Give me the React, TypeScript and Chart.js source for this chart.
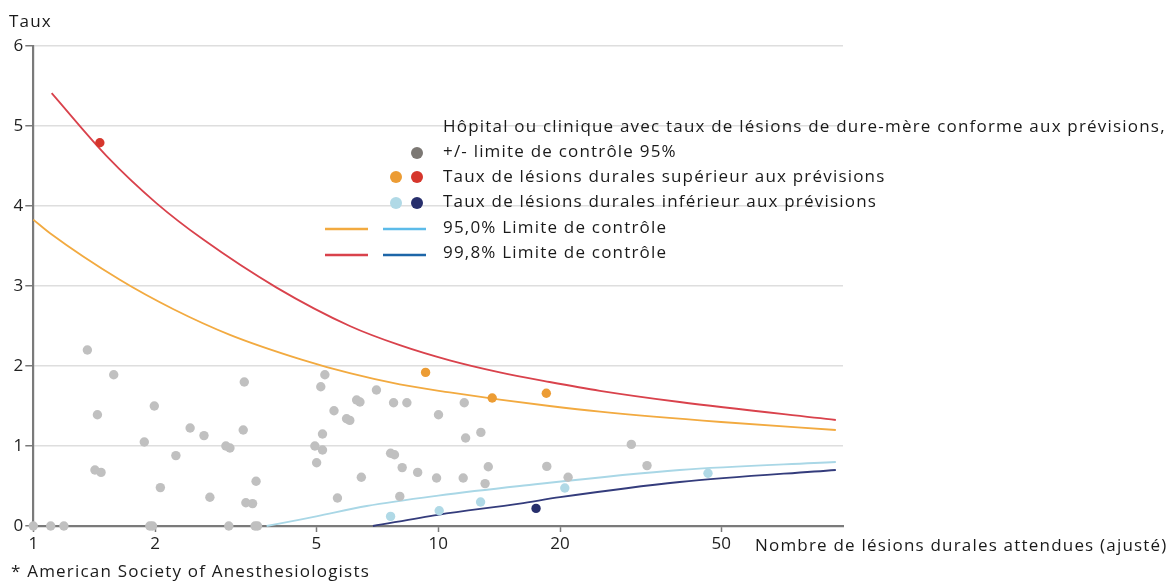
import React, { useEffect, useRef } from "react";
import { Chart, registerables } from "chart.js";
Chart.register(...registerables);

// ---------- data ----------
const xTickValues = [1, 2, 5, 10, 20, 50];
const yTickValues = [0, 1, 2, 3, 4, 5, 6];

// hospitals within limits (grey)
const grayX = [1.0, 1.104, 1.19, 1.36, 1.58, 1.44, 1.42, 1.47, 1.88, 1.94, 1.97, 1.99, 2.06, 2.25, 2.44, 2.64, 2.73, 2.99, 3.06, 3.04, 3.32, 3.3, 3.35, 3.48, 3.55, 3.53, 3.58, 4.96, 5.01, 5.13, 5.25, 5.18, 5.18, 5.53, 5.64, 5.94, 6.05, 6.29, 6.41, 6.46, 7.04, 7.63, 7.8, 7.76, 8.04, 8.15, 8.37, 8.9, 9.91, 10.02, 11.6, 11.69, 12.75, 11.53, 13.3, 13.06, 18.55, 20.94, 30.0, 32.8];
const grayY = [0, 0, 0, 2.2, 1.89, 1.39, 0.7, 0.67, 1.05, 0, 0, 1.5, 0.48, 0.88, 1.225, 1.13, 0.36, 1.0, 0.975, 0, 1.8, 1.2, 0.29, 0.28, 0.56, 0, 0, 1.0, 0.79, 1.74, 1.89, 1.15, 0.95, 1.44, 0.35, 1.34, 1.32, 1.575, 1.55, 0.61, 1.7, 0.91, 0.89, 1.54, 0.37, 0.73, 1.54, 0.67, 0.6, 1.39, 1.54, 1.1, 1.17, 0.6, 0.74, 0.53, 0.745, 0.61, 1.02, 0.755];

// above expectation
const above95X = [9.31, 13.6, 18.5];
const above95Y = [1.92, 1.6, 1.66];
const above998X = [1.46];
const above998Y = [4.79];

// below expectation
const below95X = [7.63, 10.06, 12.73, 20.55, 46.4];
const below95Y = [0.12, 0.19, 0.3, 0.475, 0.66];
const below998X = [17.45];
const below998Y = [0.22];

// control limits
const upper998X = [1.11, 1.52, 2.02, 2.63, 3.99, 6.05, 8.04, 10.68, 14.2, 18.85, 25.1, 39.5, 96];
const upper998Y = [5.41, 4.62, 4.03, 3.58, 2.98, 2.5, 2.26, 2.07, 1.92, 1.8, 1.69, 1.55, 1.325];
const upper95X = [1.0, 1.1, 1.64, 2.22, 3.06, 4.6, 6.05, 8.04, 10.68, 14.2, 18.85, 25.1, 50, 96];
const upper95Y = [3.83, 3.66, 3.075, 2.71, 2.39, 2.08, 1.91, 1.77, 1.67, 1.58, 1.5, 1.43, 1.3, 1.2];
const lower95X = [3.77, 4.56, 5.0, 6.66, 10, 15.9, 39.5, 96];
const lower95Y = [0, 0.08, 0.12, 0.25, 0.38, 0.5, 0.7, 0.8];
const lower998X = [6.9, 10, 15.9, 20, 39.5, 96];
const lower998Y = [0, 0.14, 0.28, 0.36, 0.55, 0.7];

const yTitle = "Taux";
const xTitle = "Nombre de lésions durales attendues (ajusté)";
const footnote = "* American Society of Anesthesiologists";
const legendRows = [
  "Hôpital ou clinique avec taux de lésions de dure-mère conforme aux prévisions,",
  "+/- limite de contrôle 95%",
  "Taux de lésions durales supérieur aux prévisions",
  "Taux de lésions durales inférieur aux prévisions",
  "95,0% Limite de contrôle",
  "99,8% Limite de contrôle",
];

// ---------- styles ----------
const FONT = "'Open Sans', sans-serif";
const C_GRAY = "#c0c0c0";
const C_GRAY_LEG = "#7c7874";
const C_ORANGE = "#ec9c34";
const C_RED = "#d6362c";
const C_LBLUE = "#b0d9e6";
const C_DBLUE = "#272f6c";
const L_RED = "#d9424c";
const L_ORANGE = "#f2aa40";
const L_LBLUE = "#a9d7e6";
const L_DBLUE = "#343c7c";
const LEG_LBLUE = "#5cbbe9";
const LEG_DBLUE = "#1d66a8";

const zip = (xs: number[], ys: number[]) => xs.map((x, i) => ({ x, y: ys[i] }));

const textPlugin = {
  id: "texts",
  afterDraw(chart: any) {
    const ctx = chart.ctx as any;
    ctx.save();
    ctx.fillStyle = "#1a1a1a";
    ctx.textBaseline = "middle";
    ctx.textAlign = "left";
    ctx.font = `17px ${FONT}`;
    ctx.letterSpacing = "1.2px";
    ctx.fillText(yTitle, 9, 22);
    ctx.fillText(xTitle, 755, 546);
    ctx.fillText(footnote, 11, 572);
    // legend
    const tx = 443;
    const rowsY = [127, 152, 177, 202, 228, 253];
    legendRows.forEach((t, i) => ctx.fillText(t, tx, rowsY[i]));
    ctx.letterSpacing = "0px";
    const dot = (x: number, y: number, c: string) => {
      ctx.beginPath();
      ctx.fillStyle = c;
      ctx.arc(x, y, 6, 0, Math.PI * 2);
      ctx.fill();
    };
    dot(417, 153, C_GRAY_LEG);
    dot(396, 177, C_ORANGE);
    dot(417, 177, C_RED);
    dot(396, 203, C_LBLUE);
    dot(417, 203, C_DBLUE);
    const seg = (x1: number, x2: number, y: number, c: string) => {
      ctx.beginPath();
      ctx.strokeStyle = c;
      ctx.lineWidth = 2.5;
      ctx.moveTo(x1, y);
      ctx.lineTo(x2, y);
      ctx.stroke();
    };
    seg(325, 368, 229, L_ORANGE);
    seg(383, 426, 229, LEG_LBLUE);
    seg(325, 368, 255, L_RED);
    seg(383, 426, 255, LEG_DBLUE);
    ctx.restore();
  },
};

export default function App() {
  const ref = useRef<HTMLCanvasElement | null>(null);
  useEffect(() => {
    if (!ref.current) return;
    const lineDs = (xs: number[], ys: number[], color: string) => ({
      type: "line" as const,
      data: zip(xs, ys),
      borderColor: color,
      borderWidth: 1.8,
      pointRadius: 0,
      fill: false,
      cubicInterpolationMode: "monotone" as const,
      clip: false as any,
      order: 2,
    });
    const dotDs = (xs: number[], ys: number[], color: string) => ({
      type: "scatter" as const,
      data: zip(xs, ys),
      backgroundColor: color,
      borderWidth: 0,
      pointRadius: 4.7,
      pointHoverRadius: 4.7,
      clip: false as any,
      order: 1,
    });
    const chart = new Chart(ref.current, {
      type: "scatter",
      data: {
        datasets: [
          dotDs(grayX, grayY, C_GRAY),
          dotDs(above95X, above95Y, C_ORANGE),
          dotDs(above998X, above998Y, C_RED),
          dotDs(below95X, below95Y, C_LBLUE),
          dotDs(below998X, below998Y, C_DBLUE),
          lineDs(upper998X, upper998Y, L_RED),
          lineDs(upper95X, upper95Y, L_ORANGE),
          lineDs(lower95X, lower95Y, L_LBLUE),
          lineDs(lower998X, lower998Y, L_DBLUE),
        ] as any,
      },
      options: {
        responsive: false,
        animation: false,
        events: [],
        layout: { padding: { left: 0, right: 327, top: 46, bottom: 27 } },
        plugins: { legend: { display: false }, tooltip: { enabled: false }, title: { display: false } },
        scales: {
          x: {
            type: "logarithmic",
            min: 1,
            max: 100,
            afterBuildTicks: (s: any) => {
              s.ticks = xTickValues.map((v) => ({ value: v }));
            },
            afterFit: (s: any) => {
              s.height = 30;
            },
            ticks: {
              autoSkip: false,
              maxRotation: 0,
              padding: 2,
              color: "#222",
              font: { family: FONT, size: 17 },
              callback: (v: any) => String(v),
            },
            grid: {
              drawOnChartArea: false,
              drawTicks: true,
              tickLength: 6,
              tickColor: "#7a7a7a",
              tickWidth: 1.5,
            },
            border: { display: true, color: "#7a7a7a", width: 2.2 },
          },
          y: {
            type: "linear",
            min: 0,
            max: 6,
            afterBuildTicks: (s: any) => {
              s.ticks = yTickValues.map((v) => ({ value: v }));
            },
            afterFit: (s: any) => {
              s.width = 33.3;
            },
            ticks: {
              padding: 2,
              color: "#222",
              font: { family: FONT, size: 17 },
              callback: (v: any) => String(v),
            },
            grid: {
              color: "#dedede",
              lineWidth: 1.5,
              drawTicks: true,
              tickLength: 8,
              tickColor: "#7a7a7a",
              tickWidth: 1.5,
            },
            border: { display: true, color: "#7a7a7a", width: 2.2 },
          },
        },
      } as any,
      plugins: [textPlugin],
    });
    return () => chart.destroy();
  }, []);
  return (
    <div style={{ position: "fixed", left: 0, top: 0, width: 1170, height: 583, background: "#fff" }}>
      <canvas ref={ref} width={1170} height={583} />
    </div>
  );
}
